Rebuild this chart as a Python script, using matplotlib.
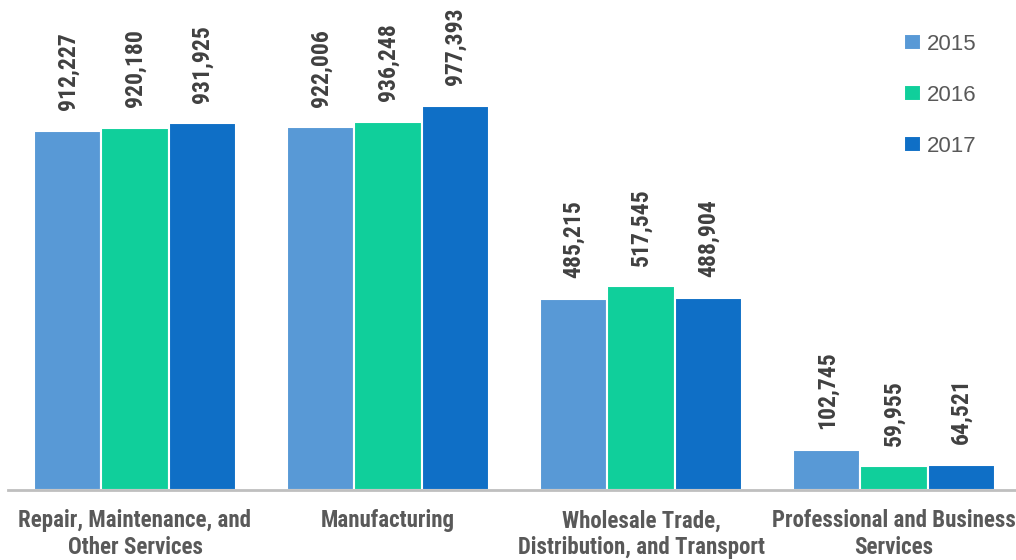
import matplotlib
matplotlib.use("Agg")
import matplotlib.pyplot as plt
import numpy as np

categories = ["Repair, Maintenance, and\nOther Services", "Manufacturing",
              "Wholesale Trade,\nDistribution, and Transport", "Professional and Business\nServices"]
years = ["2015", "2016", "2017"]
v2015 = [912227, 922006, 485215, 102745]
v2016 = [920180, 936248, 517545, 59955]
v2017 = [931925, 977393, 488904, 64521]
series = [v2015, v2016, v2017]
colors = ["#5899D6", "#10CF9B", "#0F6FC6"]

cond = ["Roboto Condensed", "DejaVu Sans"]
reg = ["Liberation Sans", "DejaVu Sans"]
text_gray = "#595959"

fig = plt.figure(figsize=(10.16, 5.6), dpi=100)
ax = fig.add_axes([8.5 / 1016, 70 / 560, 1012 / 1016, 472 / 560])

x = np.arange(len(categories))
w = 0.265
for i, (vals, col, yr) in enumerate(zip(series, colors, years)):
    pos = x + (i - 1) * w
    bars = ax.bar(pos, vals, width=w, color=col, edgecolor="white", linewidth=1.5, label=yr)
    for b, v in zip(bars, vals):
        ax.annotate(f"{v:,}", (b.get_x() + b.get_width() / 2, v), xytext=(0, 15),
                    textcoords="offset points", rotation=90, ha="center", va="bottom",
                    fontsize=17, fontweight="bold", family=cond, color="#404040")

ax.set_xlim(-0.5, 3.5)
ax.set_ylim(0, 1200000)
ax.set_yticks([])
for s in ["top", "right", "left"]:
    ax.spines[s].set_visible(False)
ax.spines["bottom"].set_color("#BFBFBF")
ax.spines["bottom"].set_linewidth(2)
ax.set_xticks(x)
ax.set_xticklabels(categories, fontsize=16.5, fontweight="bold", family=cond, color=text_gray,
                   linespacing=1.22)
ax.tick_params(axis="x", length=0, pad=14)

leg = ax.legend(loc="upper left", bbox_to_anchor=(887 / 1012, 0.985), frameon=False,
                prop={"family": reg, "size": 16}, handlelength=0.75, handleheight=0.75,
                handletextpad=0.25, labelspacing=1.35, labelcolor=text_gray, borderaxespad=0)
fig.savefig("out.png", dpi=100)
